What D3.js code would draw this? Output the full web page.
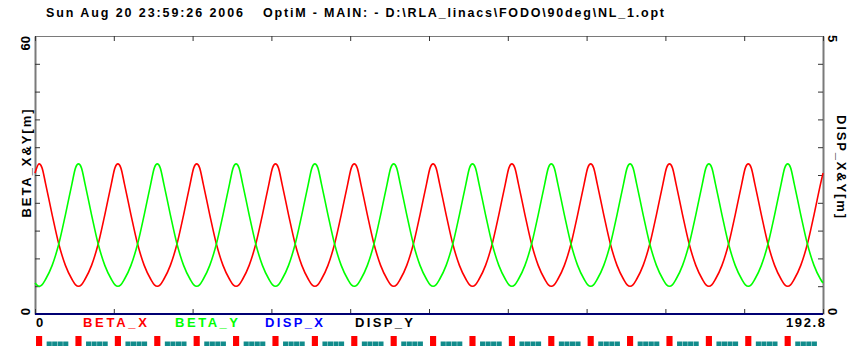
<!DOCTYPE html>
<html>
<head>
<meta charset="utf-8">
<script src="https://cdn.jsdelivr.net/npm/d3@7"></script>
<style>
  html, body { margin: 0; padding: 0; background: #fff; }
  svg { display: block; font-family: "Liberation Sans", Arial, sans-serif; font-weight: bold; }
</style>
</head>
<body>
<div id="chart"></div>
<script>
// ---- data ----
const titleDate = 'Sun Aug 20 23:59:26 2006';
const titleFile = 'OptiM - MAIN: - D:\\RLA_linacs\\FODO\\90deg\\NL_1.opt';

const sMax = 192.8;
const xTicks = [0, 19.28, 38.56, 57.84, 77.12, 96.4, 115.68, 134.96, 154.24, 173.52, 192.8];
const betaTicks = [0, 6, 12, 18, 24, 30, 36, 42, 48, 54, 60];
const dispTicks = [0, 0.5, 1, 1.5, 2, 2.5, 3, 3.5, 4, 4.5, 5];

// position along the line [m]
const sPos = [
  0,
  1.00, 1.70, 2.60, 4.20, 5.82, 7.44, 9.04, 9.94,
  10.64, 11.34, 12.24, 13.84, 15.46, 17.08, 18.68, 19.58,
  20.28, 20.98, 21.88, 23.48, 25.10, 26.72, 28.32, 29.22,
  29.92, 30.62, 31.52, 33.12, 34.74, 36.36, 37.96, 38.86,
  39.56, 40.26, 41.16, 42.76, 44.38, 46.00, 47.60, 48.50,
  49.20, 49.90, 50.80, 52.40, 54.02, 55.64, 57.24, 58.14,
  58.84, 59.54, 60.44, 62.04, 63.66, 65.28, 66.88, 67.78,
  68.48, 69.18, 70.08, 71.68, 73.30, 74.92, 76.52, 77.42,
  78.12, 78.82, 79.72, 81.32, 82.94, 84.56, 86.16, 87.06,
  87.76, 88.46, 89.36, 90.96, 92.58, 94.20, 95.80, 96.70,
  97.40, 98.10, 99.00, 100.60, 102.22, 103.84, 105.44, 106.34,
  107.04, 107.74, 108.64, 110.24, 111.86, 113.48, 115.08, 115.98,
  116.68, 117.38, 118.28, 119.88, 121.50, 123.12, 124.72, 125.62,
  126.32, 127.02, 127.92, 129.52, 131.14, 132.76, 134.36, 135.26,
  135.96, 136.66, 137.56, 139.16, 140.78, 142.40, 144.00, 144.90,
  145.60, 146.30, 147.20, 148.80, 150.42, 152.04, 153.64, 154.54,
  155.24, 155.94, 156.84, 158.44, 160.06, 161.68, 163.28, 164.18,
  164.88, 165.58, 166.48, 168.08, 169.70, 171.32, 172.92, 173.82,
  174.52, 175.22, 176.12, 177.72, 179.34, 180.96, 182.56, 183.46,
  184.16, 184.86, 185.76, 187.36, 188.98, 190.60, 192.20,
  192.8
];

const betaX = [
  30.4,
  32.4, 31.6, 28.1, 21.4, 15.1, 10.5, 7.5, 6.3,
  6.0, 6.3, 7.5, 10.5, 15.1, 21.4, 28.1, 31.6,
  32.4, 31.6, 28.1, 21.4, 15.1, 10.5, 7.5, 6.3,
  6.0, 6.3, 7.5, 10.5, 15.1, 21.4, 28.1, 31.6,
  32.4, 31.6, 28.1, 21.4, 15.1, 10.5, 7.5, 6.3,
  6.0, 6.3, 7.5, 10.5, 15.1, 21.4, 28.1, 31.6,
  32.4, 31.6, 28.1, 21.4, 15.1, 10.5, 7.5, 6.3,
  6.0, 6.3, 7.5, 10.5, 15.1, 21.4, 28.1, 31.6,
  32.4, 31.6, 28.1, 21.4, 15.1, 10.5, 7.5, 6.3,
  6.0, 6.3, 7.5, 10.5, 15.1, 21.4, 28.1, 31.6,
  32.4, 31.6, 28.1, 21.4, 15.1, 10.5, 7.5, 6.3,
  6.0, 6.3, 7.5, 10.5, 15.1, 21.4, 28.1, 31.6,
  32.4, 31.6, 28.1, 21.4, 15.1, 10.5, 7.5, 6.3,
  6.0, 6.3, 7.5, 10.5, 15.1, 21.4, 28.1, 31.6,
  32.4, 31.6, 28.1, 21.4, 15.1, 10.5, 7.5, 6.3,
  6.0, 6.3, 7.5, 10.5, 15.1, 21.4, 28.1, 31.6,
  32.4, 31.6, 28.1, 21.4, 15.1, 10.5, 7.5, 6.3,
  6.0, 6.3, 7.5, 10.5, 15.1, 21.4, 28.1, 31.6,
  32.4, 31.6, 28.1, 21.4, 15.1, 10.5, 7.5, 6.3,
  6.0, 6.3, 7.5, 10.5, 15.1, 21.4, 28.1,
  30.4
];

const betaY = [
  6.7,
  6.0, 6.3, 7.5, 10.5, 15.1, 21.4, 28.1, 31.6,
  32.4, 31.6, 28.1, 21.4, 15.1, 10.5, 7.5, 6.3,
  6.0, 6.3, 7.5, 10.5, 15.1, 21.4, 28.1, 31.6,
  32.4, 31.6, 28.1, 21.4, 15.1, 10.5, 7.5, 6.3,
  6.0, 6.3, 7.5, 10.5, 15.1, 21.4, 28.1, 31.6,
  32.4, 31.6, 28.1, 21.4, 15.1, 10.5, 7.5, 6.3,
  6.0, 6.3, 7.5, 10.5, 15.1, 21.4, 28.1, 31.6,
  32.4, 31.6, 28.1, 21.4, 15.1, 10.5, 7.5, 6.3,
  6.0, 6.3, 7.5, 10.5, 15.1, 21.4, 28.1, 31.6,
  32.4, 31.6, 28.1, 21.4, 15.1, 10.5, 7.5, 6.3,
  6.0, 6.3, 7.5, 10.5, 15.1, 21.4, 28.1, 31.6,
  32.4, 31.6, 28.1, 21.4, 15.1, 10.5, 7.5, 6.3,
  6.0, 6.3, 7.5, 10.5, 15.1, 21.4, 28.1, 31.6,
  32.4, 31.6, 28.1, 21.4, 15.1, 10.5, 7.5, 6.3,
  6.0, 6.3, 7.5, 10.5, 15.1, 21.4, 28.1, 31.6,
  32.4, 31.6, 28.1, 21.4, 15.1, 10.5, 7.5, 6.3,
  6.0, 6.3, 7.5, 10.5, 15.1, 21.4, 28.1, 31.6,
  32.4, 31.6, 28.1, 21.4, 15.1, 10.5, 7.5, 6.3,
  6.0, 6.3, 7.5, 10.5, 15.1, 21.4, 28.1, 31.6,
  32.4, 31.6, 28.1, 21.4, 15.1, 10.5, 7.5,
  6.7
];

// dispersion is zero everywhere
const dispS = [0, 192.8];
const dispX = [0, 0];
const dispY = [0, 0];

// lattice: quads (red) and cavity blocks (teal), positions in m
const quadStart = [0.25, 9.89, 19.53, 29.17, 38.81, 48.45, 58.09, 67.73, 77.37, 87.01,
  96.65, 106.29, 115.93, 125.57, 135.21, 144.85, 154.49, 164.13, 173.77, 183.41];
const quadLen = 1.5;
const cavOffsets = [2.6, 3.95, 5.3, 6.65];
const cavLen = 1.25;

const legend = [
  { name: 'BETA_X', color: '#ff0000', x0: 83, x1: 147 },
  { name: 'BETA_Y', color: '#00ff00', x0: 175, x1: 238 },
  { name: 'DISP_X', color: '#0000ff', x0: 265, x1: 323 },
  { name: 'DISP_Y', color: '#000000', x0: 355, x1: 413 }
];

// ---- layout ----
const width = 848, height = 353;
const mLeft = 35, mRight = 823, mTop = 36, mBottom = 314;

const svg = d3.select('#chart').append('svg')
  .attr('width', width)
  .attr('height', height);

const x = d3.scaleLinear().domain([0, sMax]).range([mLeft, mRight]);
const yB = d3.scaleLinear().domain([0, 60]).range([mBottom, mTop]);
const yD = d3.scaleLinear().domain([0, 5]).range([mBottom, mTop]);

// title (wide letter spacing like the original bitmap font)
svg.append('text').attr('x', 46).attr('y', 17)
  .attr('font-size', 12.5).attr('textLength', 197).attr('lengthAdjust', 'spacing')
  .text(titleDate);
svg.append('text').attr('x', 263).attr('y', 17)
  .attr('font-size', 12.5).attr('letter-spacing', 1.8)
  .text(titleFile);

// lattice strip
const lat = svg.append('g');
lat.selectAll('rect.cav')
  .data(quadStart.flatMap(q => cavOffsets.map(o => q + o)))
  .join('rect')
  .attr('class', 'cav')
  .attr('x', d => x(d))
  .attr('width', d => x(d + cavLen) - x(d))
  .attr('y', 341.5)
  .attr('height', 4.5)
  .attr('fill', '#128c8c');
lat.selectAll('rect.quad')
  .data(quadStart)
  .join('rect')
  .attr('class', 'quad')
  .attr('x', d => x(d))
  .attr('width', d => x(d + quadLen) - x(d))
  .attr('y', 336)
  .attr('height', 10)
  .attr('fill', '#ff0000');

// axes (ticks pointing inward, only end labels)
const tickStyle = g => {
  g.selectAll('.tick line').attr('stroke', '#333');
  g.selectAll('.tick text').remove();
};
svg.append('g').attr('transform', `translate(${mLeft},0)`)
  .call(d3.axisLeft(yB).tickValues(betaTicks).tickSizeInner(-5).tickSizeOuter(0))
  .call(tickStyle)
  .call(g => g.select('.domain').attr('stroke', '#7a7a7a').attr('stroke-width', 2));
svg.append('g').attr('transform', `translate(${mRight},0)`)
  .call(d3.axisRight(yD).tickValues(dispTicks).tickSizeInner(-5).tickSizeOuter(0))
  .call(tickStyle)
  .call(g => g.select('.domain').attr('stroke', '#7a7a7a').attr('stroke-width', 2));
svg.append('g').attr('transform', `translate(0,${mTop})`)
  .call(d3.axisTop(x).tickValues(xTicks).tickSizeInner(-5).tickSizeOuter(0))
  .call(tickStyle)
  .call(g => g.select('.domain').attr('stroke', '#7a7a7a').attr('stroke-width', 1));
svg.append('g').attr('transform', `translate(0,${mBottom})`)
  .call(d3.axisBottom(x).tickValues(xTicks).tickSizeInner(-5).tickSizeOuter(0))
  .call(tickStyle)
  .call(g => g.select('.domain').attr('stroke', 'none'));

// curves
const drawSeries = (sArr, vArr, yScale, color, w, op) => {
  svg.append('path')
    .datum(sArr.map((s, i) => [s, vArr[i]]))
    .attr('fill', 'none')
    .attr('stroke', color)
    .attr('stroke-width', w)
    .attr('stroke-opacity', op)
    .attr('d', d3.line().x(d => x(d[0])).y(d => yScale(d[1])).curve(d3.curveMonotoneX));
};
drawSeries(dispS, dispX, yD, '#0000ff', 2, 1);
drawSeries(dispS, dispY, yD, '#000000', 2, 0.55);
drawSeries(sPos, betaX, yB, '#ff0000', 1.6, 1);
drawSeries(sPos, betaY, yB, '#00ff00', 1.6, 1);

// axis end labels
svg.append('text').attr('x', 36).attr('y', 327).attr('font-size', 13).text('0');
svg.append('text').attr('x', 825).attr('y', 327).attr('font-size', 13)
  .attr('text-anchor', 'end').attr('textLength', 39).attr('lengthAdjust', 'spacing').text(sMax);

const rotText = (txt, cx, y, angle, anchor, len) => {
  const t = svg.append('text').attr('transform', `translate(${cx},${y}) rotate(${angle})`)
    .attr('font-size', 13).attr('text-anchor', anchor).text(txt);
  if (len) t.attr('textLength', len).attr('lengthAdjust', 'spacing');
};
rotText(yB.domain()[1], 30, mTop, -90, 'end');
rotText(yB.domain()[0], 30, 308, -90, 'end');
rotText('BETA_X&Y[m]', 31, 163.5, -90, 'middle', 108);
rotText(yD.domain()[1], 828, mTop - 1, 90, 'start');
rotText(yD.domain()[0], 828, 308, 90, 'start');
rotText('DISP_X&Y[m]', 837, 166.5, 90, 'middle', 103);

// legend
svg.append('g').selectAll('text')
  .data(legend)
  .join('text')
  .attr('x', d => d.x0)
  .attr('y', 327)
  .attr('font-size', 13)
  .attr('fill', d => d.color)
  .attr('textLength', d => d.x1 - d.x0)
  .attr('lengthAdjust', 'spacing')
  .text(d => d.name);
</script>
</body>
</html>
